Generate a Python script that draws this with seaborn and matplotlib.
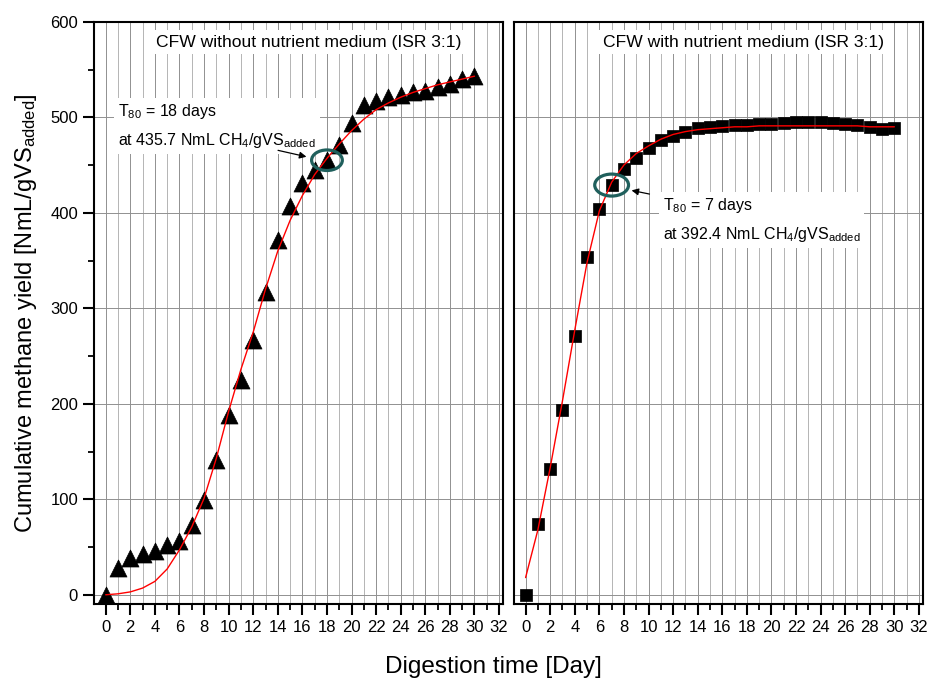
import matplotlib
matplotlib.use("Agg")
import matplotlib.pyplot as plt
from matplotlib.patches import Ellipse
from matplotlib.ticker import MultipleLocator
import seaborn as sns
import pandas as pd

# --- data ---
days = list(range(31))

# CFW without nutrient medium (triangles)
yield_no_nutr = [0, 28, 39, 43, 46, 52, 56, 73, 99, 141, 188, 225, 267, 317, 371,
                 407, 431, 445, 455, 471, 494, 513, 517, 521, 523, 526, 528, 532,
                 535, 540, 543]
fit_no_nutr = [0, 1, 3, 7, 14, 27, 47, 71, 101, 143, 192, 236, 275, 320, 360,
               392, 418, 440, 457, 472, 486, 498, 508, 515, 521, 526, 530, 534,
               537, 540, 543]

# CFW with nutrient medium (squares)
yield_nutr = [0, 74, 132, 193, 271, 354, 404, 429, 446, 457, 468, 476, 480, 485,
              489, 490, 491, 492, 492, 493, 493, 494, 495, 495, 495, 494, 493,
              492, 490, 488, 489]
fit_nutr = [18, 68, 133, 203, 277, 348, 402, 432, 450, 462, 470, 477, 482, 485,
            487, 488, 489, 490, 490, 491, 491, 491, 491, 491, 491, 491, 491, 491,
            490, 490, 490]

titles = ["CFW without nutrient medium (ISR 3:1)", "CFW with nutrient medium (ISR 3:1)"]
t80_days = [18, 7]
t80_text = ["T$_{80}$ = 18 days\nat 435.7 NmL CH$_4$/gVS$_{added}$",
            "T$_{80}$ = 7 days\nat 392.4 NmL CH$_4$/gVS$_{added}$"]

df1 = pd.DataFrame({"day": days, "y": yield_no_nutr, "fit": fit_no_nutr})
df2 = pd.DataFrame({"day": days, "y": yield_nutr, "fit": fit_nutr})

sns.set_style("white")
plt.rcParams['font.family'] = ['Liberation Sans', 'DejaVu Sans']
plt.rcParams['mathtext.default'] = 'regular'
plt.rcParams['text.color'] = 'black'
plt.rcParams['axes.labelcolor'] = 'black'

fig = plt.figure(figsize=(9.31, 6.8), dpi=100)
ax1 = fig.add_axes([0.101, 0.112, 0.439, 0.856])
ax2 = fig.add_axes([0.552, 0.112, 0.439, 0.856])

teal = '#1f5f5c'

def style_axis(ax, show_y):
    ax.set_xlim(-0.95, 32.3)
    ax.set_ylim(-9.5, 600)
    ax.xaxis.set_major_locator(MultipleLocator(2))
    ax.xaxis.set_minor_locator(MultipleLocator(1))
    ax.yaxis.set_major_locator(MultipleLocator(100))
    ax.yaxis.set_minor_locator(MultipleLocator(50))
    ax.grid(which='major', axis='both', color='#909090', lw=0.7)
    ax.grid(which='minor', axis='x', color='#b4b4b4', lw=0.7)
    ax.set_axisbelow(True)
    for s in ax.spines.values():
        s.set_visible(True)
        s.set_linewidth(1.5)
        s.set_color('black')
    ax.tick_params(which='major', direction='out', length=8, width=1.5,
                   labelsize=12, bottom=True, left=show_y, colors='black')
    ax.tick_params(which='minor', direction='out', length=4, width=1.3,
                   bottom=True, left=show_y, colors='black')
    if not show_y:
        ax.tick_params(axis='y', which='both', labelleft=False, left=False)
    ax.set_xlabel("")
    ax.set_ylabel("")

# left panel
sns.scatterplot(data=df1, x="day", y="y", marker='^', s=150, color='black',
                edgecolor='black', linewidth=0.5, ax=ax1, zorder=3)
sns.lineplot(data=df1, x="day", y="fit", color='red', lw=1.0, ax=ax1, zorder=4)
style_axis(ax1, True)

# right panel
sns.scatterplot(data=df2, x="day", y="y", marker='s', s=85, color='black',
                edgecolor='black', linewidth=0.5, ax=ax2, zorder=3)
sns.lineplot(data=df2, x="day", y="fit", color='red', lw=1.0, ax=ax2, zorder=4)
style_axis(ax2, False)

box = dict(facecolor='white', edgecolor='none', boxstyle='square,pad=0.25')

# titles
ax1.text(0.526, 0.965, titles[0], transform=ax1.transAxes, ha='center', va='center',
         fontsize=12.6, bbox=box, zorder=5)
ax2.text(0.562, 0.965, titles[1], transform=ax2.transAxes, ha='center', va='center',
         fontsize=12.6, bbox=box, zorder=5)

# T80 annotations
ax1.text(0.059, 0.821, t80_text[0], transform=ax1.transAxes, ha='left', va='center',
         fontsize=11.5, linespacing=1.75, bbox=box, zorder=5)
ax2.text(0.364, 0.659, t80_text[1], transform=ax2.transAxes, ha='left', va='center',
         fontsize=11.5, linespacing=1.75, bbox=box, zorder=5)

p1 = (t80_days[0], yield_no_nutr[t80_days[0]])
p2 = (t80_days[1], yield_nutr[t80_days[1]])
ax1.add_patch(Ellipse(p1, 2.5, 21.5, fill=False, edgecolor=teal, lw=2.3, zorder=6))
ax2.add_patch(Ellipse(p2, 2.75, 23, fill=False, edgecolor=teal, lw=2.3, zorder=6))

arrow = dict(arrowstyle='-|>', color='black', lw=0.9, mutation_scale=10)
ax1.annotate("", xy=(p1[0] - 1.45, p1[1] + 3), xytext=(13.8, 466), arrowprops=arrow, zorder=6)
ax2.annotate("", xy=(p2[0] + 1.4, p2[1] - 5), xytext=(10.3, 419), arrowprops=arrow, zorder=6)

fig.text(0.53, 0.019, "Digestion time [Day]", ha='center', va='center', fontsize=17.5)
fig.text(0.028, 0.54, "Cumulative methane yield [NmL/gVS$_{added}$]", ha='center',
         va='center', rotation=90, fontsize=17)

fig.savefig("out.png", dpi=100)
